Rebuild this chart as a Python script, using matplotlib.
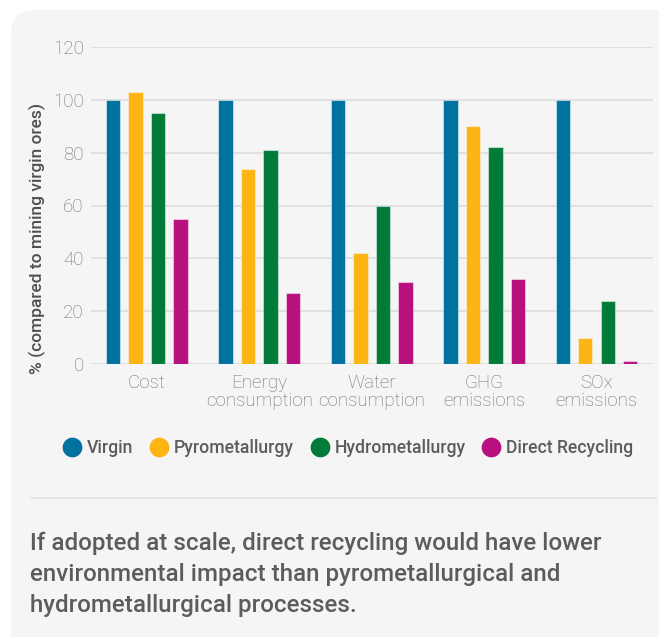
import matplotlib
matplotlib.use("Agg")
import matplotlib.pyplot as plt
import numpy as np
from matplotlib.patches import FancyBboxPatch
from matplotlib.lines import Line2D

# ---- data -------------------------------------------------------------
categories = ["Cost", "Energy\nconsumption", "Water\nconsumption",
              "GHG\nemissions", "SOx\nemissions"]
virgin = [100, 100, 100, 100, 100]
pyrometallurgy = [103, 74, 42, 90, 10]
hydrometallurgy = [95, 81, 60, 82, 24]
direct_recycling = [55, 27, 31, 32, 1]
series_names = ["Virgin", "Pyrometallurgy", "Hydrometallurgy", "Direct Recycling"]
y_ticks = [0, 20, 40, 60, 80, 100, 120]
caption_lines = [
    "If adopted at scale, direct recycling would have lower",
    "environmental impact than pyrometallurgical and",
    "hydrometallurgical processes.",
]

# ---- style ------------------------------------------------------------
colors = ["#00729f", "#fdb515", "#007b38", "#b8107e"]
panel_color = "#f5f5f5"
grid_color = "#dcdcdc"
tick_color = "#707070"
text_color = "#5c5c5c"
font = "Roboto"

W, H = 659, 637
fig = plt.figure(figsize=(W / 100, H / 100), dpi=100)
fig.patch.set_facecolor("white")

# background panel, drawn in pixel units
bg = fig.add_axes([0, 0, 1, 1], zorder=-10)
bg.set_xlim(0, W)
bg.set_ylim(H, 0)
bg.axis("off")
bg.add_patch(FancyBboxPatch((11, 10), W + 30 - 11, H + 30 - 10,
                            boxstyle="round,pad=0,rounding_size=24",
                            facecolor=panel_color, edgecolor="none"))
# separator above the caption
bg.plot([30, 657], [497.5, 497.5], color="#e4e4e4", lw=1.2, solid_capstyle="butt")

# ---- bar chart --------------------------------------------------------
ax = fig.add_axes([90.7 / W, 1 - 364 / H, (652.7 - 90.7) / W, (364 - 47) / H])
ax.set_facecolor("none")
x = np.arange(len(categories))
step, width = 0.2, 0.128
all_series = [virgin, pyrometallurgy, hydrometallurgy, direct_recycling]
for i, (vals, col) in enumerate(zip(all_series, colors)):
    ax.bar(x + (i - 1.5) * step, vals, width=width, color=col,
           edgecolor=(1, 1, 1, 0.45), linewidth=0.8, zorder=3)

ax.set_xlim(-0.5, 4.5)
ax.set_ylim(0, 120)
ax.set_yticks(y_ticks)
ax.set_xticks(x)
ax.set_xticklabels(categories, linespacing=1.05)
for s in ax.spines.values():
    s.set_visible(False)
ax.yaxis.grid(True, color=grid_color, linewidth=1.2, zorder=0)
ax.tick_params(axis="both", length=0, colors=tick_color, labelsize=13.5)
ax.tick_params(axis="y", pad=5)
ax.tick_params(axis="x", pad=7)
for lab in ax.get_xticklabels() + ax.get_yticklabels():
    lab.set_fontfamily(font)
    lab.set_fontweight("light")

fig.text(37.5 / W, 1 - 238 / H, "% (compared to mining virgin ores)",
         rotation=90, ha="center", va="center", fontsize=12.5,
         fontfamily=font, fontweight="medium", color="#4f4f4f")

# ---- legend -----------------------------------------------------------
handles = [Line2D([], [], linestyle="none", marker="o", markersize=14.2,
                  markerfacecolor=c, markeredgecolor="none") for c in colors]
fig.legend(handles, series_names, loc="center", ncol=4,
           bbox_to_anchor=(348 / W, 1 - 448 / H), frameon=False,
           prop={"family": font, "weight": "medium", "size": 12.7},
           labelcolor=text_color, handlelength=1.1, handletextpad=0.3,
           columnspacing=0.9, borderaxespad=0, borderpad=0)

# ---- caption ----------------------------------------------------------
for k, line in enumerate(caption_lines):
    fig.text(30 / W, 1 - (550 + 31 * k) / H, line, ha="left", va="baseline",
             fontsize=17.4, fontfamily=font, fontweight="medium",
             color=text_color)

fig.savefig("out.png", dpi=100, facecolor=fig.get_facecolor())
